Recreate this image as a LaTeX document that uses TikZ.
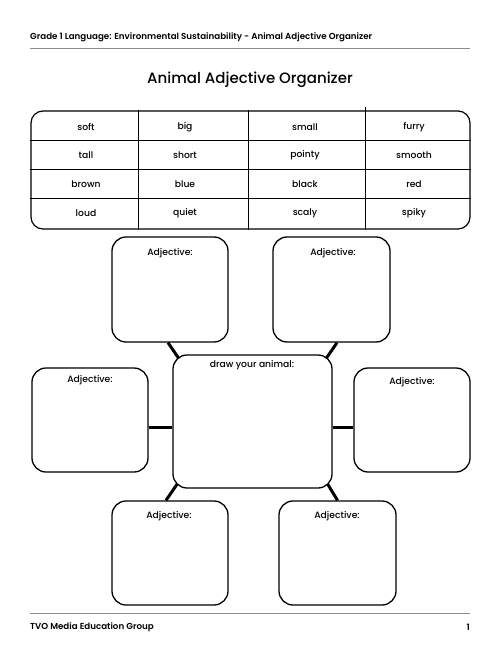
\documentclass[tikz,border=0pt]{standalone}
\usepackage{fontspec}
\setmainfont{Poppins}[UprightFont={* Medium}, BoldFont={* SemiBold}]
\usetikzlibrary{calc}
\begin{document}
\begin{tikzpicture}[x=1pt,y=-1pt,
 box/.style={draw, line width=1.3pt, rounded corners=14pt, fill=white, inner sep=0pt},
 conn/.style={line width=3pt},
 lbl/.style={font=\fontsize{9.2}{11}\selectfont, inner sep=0pt, anchor=center},
 word/.style={font=\fontsize{9.2}{11}\selectfont, inner sep=0pt, anchor=center},
 grid/.style={line width=1.2pt},
 rule/.style={draw=black!45, line width=0.9pt},
 hdr/.style={font=\bfseries\fontsize{8.7}{10}\selectfont, inner sep=0pt},
]
\useasboundingbox (0,0) rectangle (500,647);
% header
\node[hdr, anchor=west] (head) at (30,37.5) {Grade 1 Language: Environmental Sustainability - Animal Adjective Organizer};
\coordinate (hl) at (30,48);
\coordinate (hr) at (470,48);
\draw[rule] (hl) -- (hr);
\node[font=\fontsize{15}{18}\selectfont, inner sep=0pt] (title) at (250,79.5) {Animal Adjective Organizer};
% table
\node[draw, grid, rounded corners=12pt, minimum width=439, minimum height=118, inner sep=0pt] (tbl) at (250.5,170) {};
\foreach \cx/\up in {108/0,218/0,335/-3}{
  \draw[grid] ($(tbl.north west)+(\cx,\up)$) -- ($(tbl.south west)+(\cx,0)$);
}
\foreach \ry in {30,59,88}{
  \draw[grid] ($(tbl.north west)+(0,\ry)$) -- ($(tbl.north east)+(0,\ry)$);
}
\foreach \r/\y/\a/\b/\c/\d in {1/127/soft/big/small/furry, 2/155.5/tall/short/pointy/smooth, 3/184.5/brown/blue/black/red, 4/213/loud/quiet/scaly/spiky}{
  \node[word] (w\r a) at (86,\y) {\a};
  \node[word] (w\r b) at (185,\y) {\b};
  \node[word] (w\r c) at (305,\y) {\c};
  \node[word] (w\r d) at (414,\y) {\d};
}
% boxes
\node[box, minimum width=116, minimum height=105] (tl) at (170,289.5) {};
\node[box, minimum width=117, minimum height=105] (tr) at (331.5,289.5) {};
\node[box, minimum width=116, minimum height=104] (l) at (90,420) {};
\node[box, minimum width=116, minimum height=104] (r) at (412,420) {};
\node[box, minimum width=116, minimum height=104] (bl) at (170,553) {};
\node[box, minimum width=117, minimum height=104] (br) at (337.5,553) {};
% connectors (behind centre box)
\draw[conn] ($(tl.south)+(-2,0)$) -- ($(tl.south)+(11,19)$);
\draw[conn] ($(tr.south)+(5.5,0)$) -- ($(tr.south)+(-7.5,19)$);
\draw[conn] ($(bl.north)+(-4,0)$) -- ($(bl.north)+(9,-19)$);
\draw[conn] ($(br.north)+(0,0)$) -- ($(br.north)+(-11.5,-19)$);
\coordinate (lm) at ($(l.east)+(0,7)$);
\coordinate (rm) at ($(r.west)+(0,7)$);
\node[box, minimum width=159, minimum height=133] (c) at (252.5,421.5) {};
\draw[conn] (lm) -- (lm -| c.west);
\draw[conn] (rm) -- (rm -| c.east);
% labels
\node[lbl] (tlt) at (170,253) {Adjective:};
\node[lbl] (trt) at (333,253) {Adjective:};
\node[lbl] (lt) at (90,380) {Adjective:};
\node[lbl] (rt) at (412,382) {Adjective:};
\node[lbl] (blt) at (169,516) {Adjective:};
\node[lbl] (brt) at (337,516) {Adjective:};
\node[lbl] (ct) at (252,365) {draw your animal:};
% footer
\coordinate (fl) at (30,613);
\coordinate (fr) at (470,613);
\draw[rule] (fl) -- (fr);
\node[hdr, anchor=west] (foot) at (30,627) {TVO Media Education Group};
\node[hdr, anchor=east] (page) at (470,627) {1};
\end{tikzpicture}
\end{document}
